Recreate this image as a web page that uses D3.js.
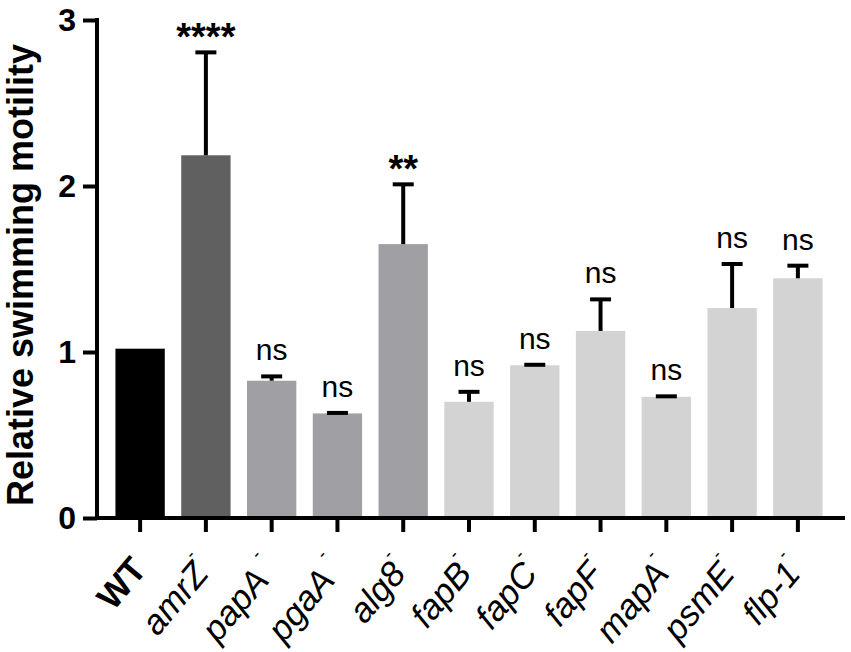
<!DOCTYPE html>
<html><head><meta charset="utf-8">
<script src="https://cdn.jsdelivr.net/npm/d3@7/dist/d3.min.js"></script>
<style>
body{margin:0;background:#fff;}
text{font-family:"Liberation Sans",Arial,sans-serif;}
</style></head>
<body>
<svg id="chart" width="851" height="652"></svg>
<script>
const categories = ["WT","amrZ","papA","pgaA","alg8","fapB","fapC","fapF","mapA","psmE","flp-1"];
const values     = [1.02, 2.185, 0.827, 0.63, 1.65, 0.70, 0.92, 1.127, 0.73, 1.265, 1.444];
const errors     = [0, 0.62, 0.026, 0.003, 0.36, 0.06, 0.003, 0.19, 0.003, 0.265, 0.076];
const signif     = ["", "****", "ns", "ns", "**", "ns", "ns", "ns", "ns", "ns", "ns"];
const labelSpace = [false, false, true, true, false, false, false, false, false, false, false];
const barColors  = ["#000000","#606060","#a0a0a4","#a0a0a4","#a0a0a4","#d3d3d3","#d3d3d3","#d3d3d3","#d3d3d3","#d3d3d3","#d3d3d3"];
const yTicks     = [0, 1, 2, 3];

const svg = d3.select("#chart");
const y = d3.scaleLinear().domain([0, 3]).range([518, 20]);
const x = d3.scaleBand().domain(categories).range([99, 839]).paddingInner(0.25).paddingOuter(0.25);
const axisX = 97;

const data = categories.map((c, i) => ({c, v: values[i], e: errors[i], s: signif[i], col: barColors[i], sp: labelSpace[i]}));

// bars
svg.append("g").selectAll("rect").data(data).join("rect")
  .attr("x", d => x(d.c)).attr("width", x.bandwidth())
  .attr("y", d => y(d.v)).attr("height", d => y(0) - y(d.v))
  .attr("fill", d => d.col);

// error bars
const eg = svg.append("g").attr("stroke", "#000").attr("stroke-width", 4);
data.filter(d => d.e > 0).forEach(d => {
  const cx = x(d.c) + x.bandwidth() / 2;
  eg.append("line").attr("x1", cx).attr("x2", cx).attr("y1", y(d.v)).attr("y2", y(d.v + d.e));
  eg.append("line").attr("x1", cx - 10.5).attr("x2", cx + 10.5).attr("y1", y(d.v + d.e)).attr("y2", y(d.v + d.e));
});

// significance labels
svg.append("g").selectAll("text").data(data.filter(d => d.s)).join("text")
  .attr("x", d => x(d.c) + x.bandwidth() / 2)
  .attr("y", d => d.s === "ns" ? y(d.v + d.e) - 16 : y(d.v + d.e) - 2)
  .attr("text-anchor", "middle")
  .attr("font-size", d => d.s === "ns" ? 30 : 38)
  .attr("font-weight", d => d.s === "ns" ? "normal" : "bold")
  .text(d => d.s);

// y axis
const ya = svg.append("g").attr("transform", `translate(${axisX},0)`)
  .call(d3.axisLeft(y).tickValues(yTicks).tickSize(14).tickSizeOuter(0).tickPadding(7).tickFormat(d3.format("d")));
ya.select(".domain").remove();
ya.selectAll(".tick line").attr("stroke-width", 4);
ya.selectAll(".tick text").attr("font-size", 32).attr("font-weight", "bold").attr("fill", "#000")
  .attr("font-family", "Liberation Sans, Arial, sans-serif");
svg.append("line").attr("x1", axisX).attr("x2", axisX).attr("y1", y(3) - 2).attr("y2", y(0) + 2)
  .attr("stroke", "#000").attr("stroke-width", 4);

// x axis
const xa = svg.append("g").attr("transform", `translate(0,${y(0)})`)
  .call(d3.axisBottom(x).tickSize(14).tickSizeOuter(0).tickFormat(""));
xa.select(".domain").remove();
xa.selectAll(".tick line").attr("stroke-width", 4);
svg.append("line").attr("x1", axisX - 2).attr("x2", 845).attr("y1", y(0)).attr("y2", y(0))
  .attr("stroke", "#000").attr("stroke-width", 4);

// x labels
const xl = svg.append("g").selectAll("text").data(data).join("text")
  .attr("transform", d => `translate(${x(d.c) + x.bandwidth() / 2 + 8},${y(0) + 52}) rotate(-50)`)
  .attr("text-anchor", "end")
  .attr("font-size", 35);
xl.each(function(d) {
  const t = d3.select(this);
  if (d.c === "WT") {
    t.attr("font-weight", "bold").text("WT");
  } else {
    t.append("tspan").attr("font-style", "italic").text(d.c + (d.sp ? " " : ""));
    t.append("tspan").attr("font-size", 18).attr("dy", "-1.25em").text("-");
  }
});

// y title
svg.append("text")
  .attr("transform", `translate(33,${(y(0) + y(3)) / 2 + 6}) rotate(-90)`)
  .attr("text-anchor", "middle")
  .attr("font-size", 36).attr("font-weight", "bold")
  .text("Relative swimming motility");
</script>
</body></html>
